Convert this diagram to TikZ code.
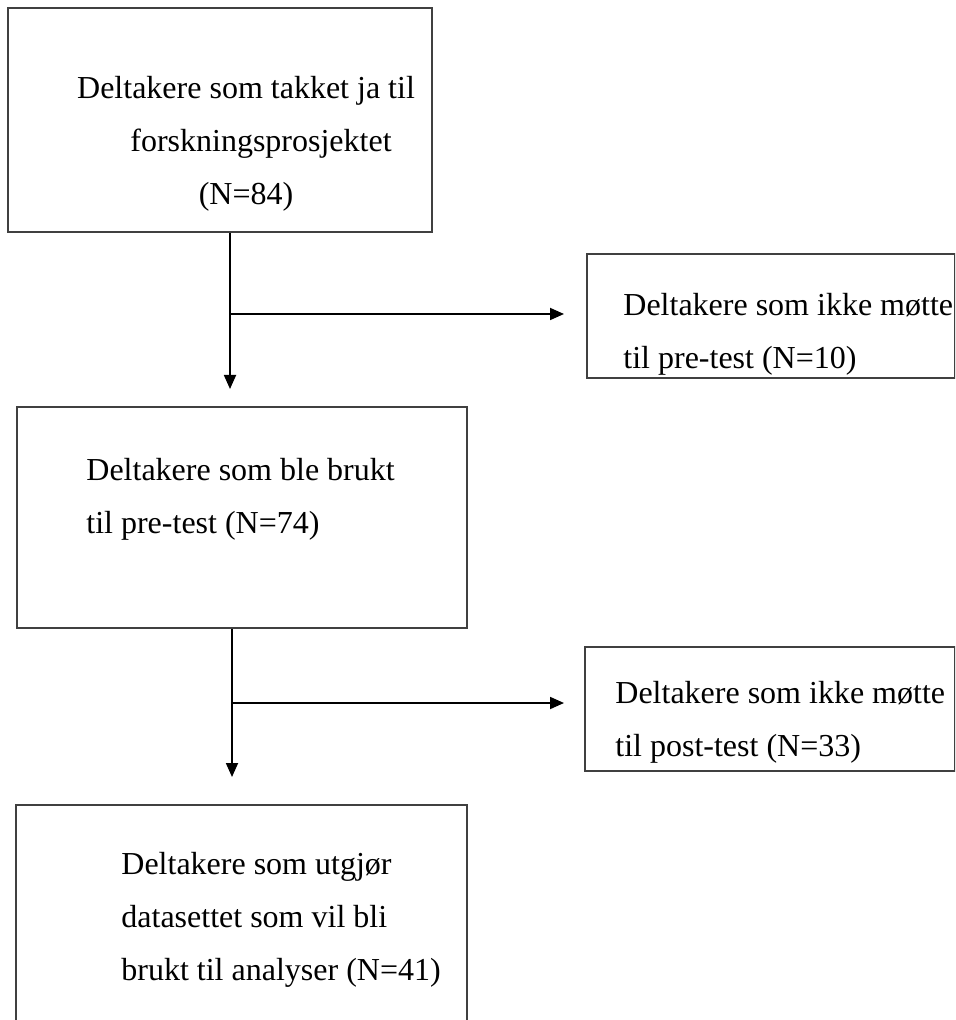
\documentclass[tikz,border=0pt]{standalone}
\usepackage{fontspec}
\setmainfont{Liberation Serif}
\usetikzlibrary{arrows.meta,positioning}

\begin{document}
\begin{tikzpicture}[
  x=0.5pt, y=-0.5pt,
  box/.style={rectangle, draw=black!75, line width=1pt, inner sep=0pt},
  txt/.style={align=left, inner sep=0pt, font=\fontsize{16}{26.5}\selectfont},
  arrow/.style={-{Triangle[length=7pt, width=6pt]}, line width=0.9pt, draw=black}
]
\useasboundingbox (0,0) rectangle (955,1020);
\clip (0,0) rectangle (955,1020);
% boxes
\node[box, minimum width=212pt, minimum height=112pt] (accepted) at (220,120) {};
\node[box, minimum width=225pt, minimum height=110.5pt] (pretest) at (242,517.5) {};
\node[box, minimum width=225.5pt, minimum height=117.5pt] (dataset) at (241.5,922.5) {};
\node[box, minimum width=184pt, minimum height=62pt] (nopre) at (771,316) {};
\node[box, minimum width=185pt, minimum height=62pt] (nopost) at (770,709) {};
% texts
\node[txt, align=center] (acceptedtxt) at (246,144) {Deltakere som takket ja til\\\hspace*{15pt}forskningsprosjektet\\(N=84)};
\node[txt, anchor=west] (pretesttxt) at (86,499) {Deltakere som ble brukt\\til pre-test (N=74)};
\node[txt, anchor=west] (datasettxt) at (121,920) {Deltakere som utgjør\\datasettet som vil bli\\brukt til analyser (N=41)};
\node[txt, anchor=west] (nopretxt) at (623,334) {Deltakere som ikke møtte\\til pre-test (N=10)};
\node[txt, anchor=west] (noposttxt) at (615,722) {Deltakere som ikke møtte\\til post-test (N=33)};
% connectors
\coordinate (split1) at (230,314);
\coordinate (split2) at (232,703);
\draw[arrow, shorten >=8.5pt] (accepted.south -| split1) -- (pretest.north -| split1);
\draw[arrow, shorten >=11pt] (split1) -- (split1 -| nopre.west);
\draw[arrow, shorten >=13.5pt] (pretest.south -| split2) -- (dataset.north -| split2);
\draw[arrow, shorten >=10pt] (split2) -- (split2 -| nopost.west);
\end{tikzpicture}
\end{document}
